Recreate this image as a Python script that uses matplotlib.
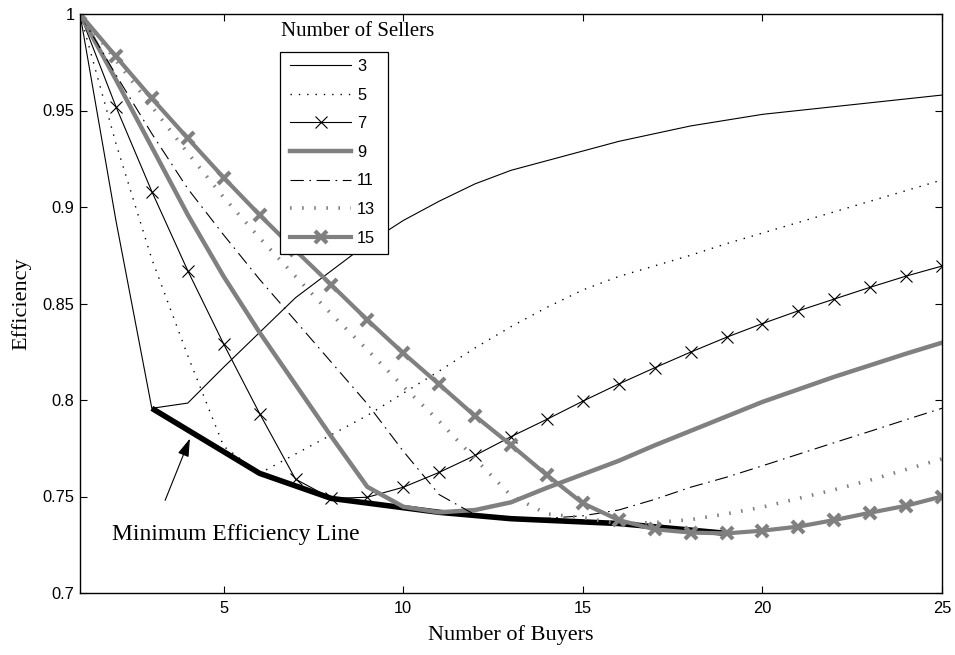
import numpy as np
import matplotlib
matplotlib.use("Agg")
import matplotlib.pyplot as plt
from matplotlib.patches import Rectangle

# Number of buyers on the horizontal axis
buyers = np.arange(1, 26)

# Efficiency for each number of sellers
eff_3 = [1.0, 0.893, 0.7957, 0.7984, 0.817, 0.835, 0.853, 0.867, 0.881, 0.893,
         0.903, 0.912, 0.919, 0.924, 0.929, 0.934, 0.938, 0.942, 0.945, 0.948,
         0.950, 0.952, 0.954, 0.956, 0.958]
eff_5 = [1.0, 0.933, 0.873, 0.823, 0.776, 0.762, 0.772, 0.782, 0.792, 0.8035,
         0.815, 0.827, 0.838, 0.848, 0.857, 0.864, 0.8695, 0.875, 0.881, 0.8865,
         0.892, 0.8975, 0.903, 0.9085, 0.914]
eff_7 = [1.0, 0.952, 0.908, 0.867, 0.829, 0.793, 0.759, 0.749, 0.7496, 0.7548,
         0.7625, 0.7713, 0.781, 0.790, 0.7994, 0.8083, 0.8167, 0.8248, 0.8325, 0.8396,
         0.8462, 0.8523, 0.8584, 0.8642, 0.8694]
eff_9 = [1.0, 0.966, 0.931, 0.896, 0.864, 0.835, 0.808, 0.781, 0.755, 0.7447,
         0.7418, 0.743, 0.747, 0.7545, 0.7615, 0.7685, 0.7765, 0.784, 0.7915, 0.799,
         0.8055, 0.812, 0.818, 0.824, 0.8297]
eff_11 = [1.0, 0.9685, 0.938, 0.9095, 0.8855, 0.8625, 0.841, 0.8195, 0.798, 0.7735,
          0.751, 0.7405, 0.7385, 0.7387, 0.740, 0.743, 0.7485, 0.7548, 0.760, 0.7659,
          0.7719, 0.7779, 0.7838, 0.7898, 0.7957]
eff_13 = [1.0, 0.976, 0.952, 0.928, 0.905, 0.884, 0.864, 0.8445, 0.826, 0.807,
          0.789, 0.7695, 0.7505, 0.741, 0.739, 0.736, 0.7365, 0.738, 0.741, 0.7445,
          0.749, 0.7535, 0.7585, 0.764, 0.7695]
eff_15 = [1.0, 0.978, 0.9563, 0.9356, 0.9152, 0.8959, 0.8775, 0.8596, 0.8415, 0.8243,
          0.8081, 0.7917, 0.7767, 0.7611, 0.7465, 0.7378, 0.733, 0.7313, 0.7309, 0.7323,
          0.7344, 0.7378, 0.7416, 0.7452, 0.750]

seller_labels = ["3", "5", "7", "9", "11", "13", "15"]

GRAY = "0.5"
SANS = ["Liberation Sans", "DejaVu Sans"]
SERIF = ["Liberation Serif", "DejaVu Serif"]

plt.rcParams["font.family"] = SANS

W, H = 955, 655
fig = plt.figure(figsize=(W / 100, H / 100), dpi=100)
ax = fig.add_axes([80 / W, 1 - 593 / H, 862 / W, 579 / H])

series = [eff_3, eff_5, eff_7, eff_9, eff_11, eff_13, eff_15]
styles = [
    dict(color="k", lw=0.8, ls="-"),
    dict(color="k", lw=1.0, ls=(0, (1, 5))),
    dict(color="k", lw=0.8, ls="-", marker="x", ms=8, mew=0.8),
    dict(color=GRAY, lw=3.2, ls="-"),
    dict(color="k", lw=0.8, ls=(0, (12, 5, 1.5, 5))),
    dict(color=GRAY, lw=2.6, ls=(0, (0.45, 2.9))),
    dict(color=GRAY, lw=3.0, ls="-", marker="x", ms=8, mew=3.0),
]

handles = []
for vals, lab, st in zip(series, seller_labels, styles):
    h, = ax.plot(buyers, vals, label=lab, **st)
    handles.append(h)

# Minimum efficiency line: the lowest point of each seller curve
min_x, min_y = [], []
for vals in series:
    i = int(np.argmin(vals))
    min_x.append(buyers[i])
    min_y.append(vals[i])
ax.plot(min_x, min_y, color="k", lw=4.0, solid_capstyle="butt", zorder=1.5)

ax.annotate("", xy=(4.06, 0.780), xytext=(3.37, 0.748),
            arrowprops=dict(arrowstyle="-|>,head_length=1.1,head_width=0.35",
                            color="k", lw=0.8, shrinkA=0, shrinkB=0))
ax.text(1.9, 0.7305, "Minimum Efficiency Line", family=SERIF, fontsize=17,
        ha="left", va="center")

ax.set_xlim(1, 25)
ax.set_ylim(0.7, 1.0)
ax.set_xticks([5, 10, 15, 20, 25])
ax.set_yticks([0.7, 0.75, 0.8, 0.85, 0.9, 0.95, 1.0])
ax.set_yticklabels(["0.7", "0.75", "0.8", "0.85", "0.9", "0.95", "1"])
ax.tick_params(direction="in", top=True, right=True, length=5, width=0.8,
               labelsize=11.8)
ax.tick_params(axis="y", pad=4)
ax.tick_params(axis="x", pad=6)
for s in ax.spines.values():
    s.set_linewidth(1.0)

ax.set_xlabel("Number of Buyers", family=SERIF, fontsize=16, labelpad=6)
ax.set_ylabel("Efficiency", family=SERIF, fontsize=16, labelpad=8)

# Legend entries, with a separately drawn frame and title above it
leg = ax.legend(handles=handles, loc="upper left",
                bbox_to_anchor=(290 / W, 1 - 59 / H),
                bbox_transform=fig.transFigure, fontsize=11.8,
                frameon=False, handlelength=3.75, handletextpad=0.35,
                labelspacing=0.83, borderpad=0, borderaxespad=0, numpoints=1)
frame = Rectangle((280 / W, 1 - 254 / H), 108 / W, 202 / H,
                  transform=fig.transFigure, facecolor="white",
                  edgecolor="k", lw=0.9, zorder=4)
fig.add_artist(frame)
leg.set_zorder(5)
fig.add_artist(leg)

fig.text(281 / W, 1 - 31 / H, "Number of Sellers", family=SERIF,
         fontsize=15, ha="left", va="center")

fig.savefig("out.png", dpi=100)
